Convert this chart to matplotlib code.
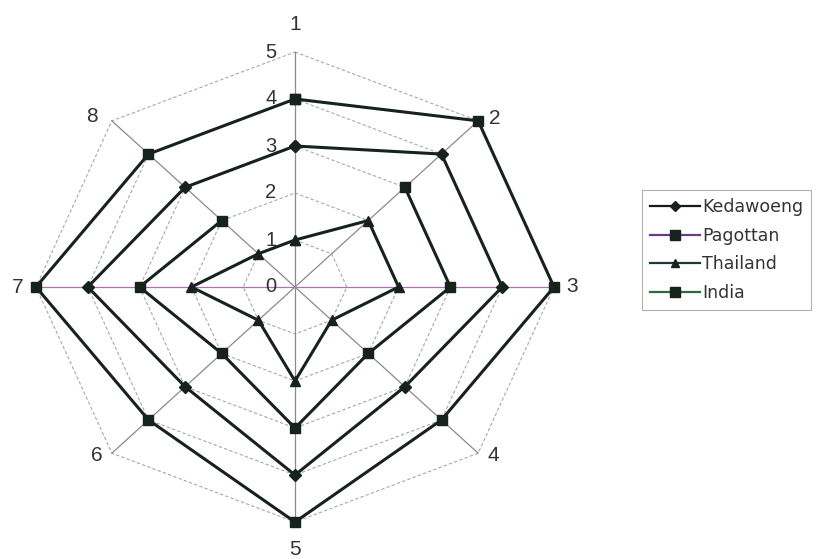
import numpy as np
import matplotlib
matplotlib.use("Agg")
import matplotlib.pyplot as plt
from matplotlib.lines import Line2D

categories = ["1", "2", "3", "4", "5", "6", "7", "8"]
kedawoeng = [3, 4, 4, 3, 4, 3, 4, 3]
pagottan = [np.nan, 3, 3, 2, 3, 2, 3, 2]
thailand = [1, 2, 2, 1, 2, 1, 2, 1]
india = [4, 5, 5, 4, 5, 4, 5, 4]
levels = [0, 1, 2, 3, 4, 5]
level_labels = ["0", "1", "2", "3", "4", "5"]
series_names = ["Kedawoeng", "Pagottan", "Thailand", "India"]

W, H = 820, 559
fig = plt.figure(figsize=(W / 100, H / 100), dpi=100)
ax = fig.add_axes([0, 0, 1, 1])
cx, cy = 295, 287
sx, sy = 51.8, 47.0
ax.set_xlim(-cx / sx, (W - cx) / sx)
ax.set_ylim(-(H - cy) / sy, cy / sy)
ax.axis("off")

n = len(categories)
theta = np.arange(n) * 2 * np.pi / n


def xy(r, t):
    return np.asarray(r, float) * np.sin(t), np.asarray(r, float) * np.cos(t)


# grid polygons
for lv in levels[1:]:
    t = np.append(theta, theta[0])
    x, y = xy(np.full(len(t), lv), t)
    ax.plot(x, y, color="#a8a8a8", lw=0.8, ls=(0, (3, 2)), zorder=1)

# spokes
for i, t in enumerate(theta):
    x, y = xy([0, levels[-1]], [t, t])
    col = "#b070b0" if i in (2, 6) else "#8a8a8a"
    ax.plot(x, y, color=col, lw=0.9, zorder=1)

# value labels
for lv, lab in zip(levels, level_labels):
    ax.text(-0.36, lv, lab, ha="right", va="center", fontsize=14.5,
            color="#333333", family="Liberation Sans", zorder=2)

# category labels (offsets in points from the spoke end)
label_off = [(0, 20), (12, 2), (13, 0), (11, -2), (0, -20), (-11, -2), (-13, 0), (-14, 3)]
for c, t, off in zip(categories, theta, label_off):
    x, y = xy(levels[-1], t)
    ax.annotate(c, (x, y), xytext=off, textcoords="offset points",
                ha="center", va="center", fontsize=15,
                color="#333333", family="Liberation Sans", zorder=2)

line_col = "#17221c"
markers = ["D", "s", "^", "s"]
msizes = [6, 7.5, 7, 7.5]
data = [kedawoeng, pagottan, thailand, india]
for vals, mk, ms in zip(data, markers, msizes):
    v = np.append(vals, vals[0])
    t = np.append(theta, theta[0])
    x, y = xy(v, t)
    ax.plot(x, y, color=line_col, lw=2.2, marker=mk, ms=ms,
            mfc=line_col, mec=line_col, zorder=3)

leg_cols = ["#1a1a1a", "#6a3a8a", "#1a3a3a", "#2a6a3a"]
handles = [Line2D([], [], color=c, lw=1.6, marker=m, ms=s * 0.9, mfc=line_col, mec=line_col)
           for c, m, s in zip(leg_cols, markers, msizes)]
leg = fig.legend(handles, series_names, loc="upper left",
                 bbox_to_anchor=(642 / W, 1 - 190 / H),
                 frameon=True, fancybox=False, edgecolor="#a0a0a0",
                 prop={"family": "DejaVu Sans", "size": 12.5},
                 handlelength=2.9, handletextpad=0.1, labelspacing=0.62,
                 borderpad=0.45, borderaxespad=0)
leg.get_frame().set_linewidth(0.8)
for t in leg.get_texts():
    t.set_color("#333333")

fig.savefig("out.png", dpi=100)
